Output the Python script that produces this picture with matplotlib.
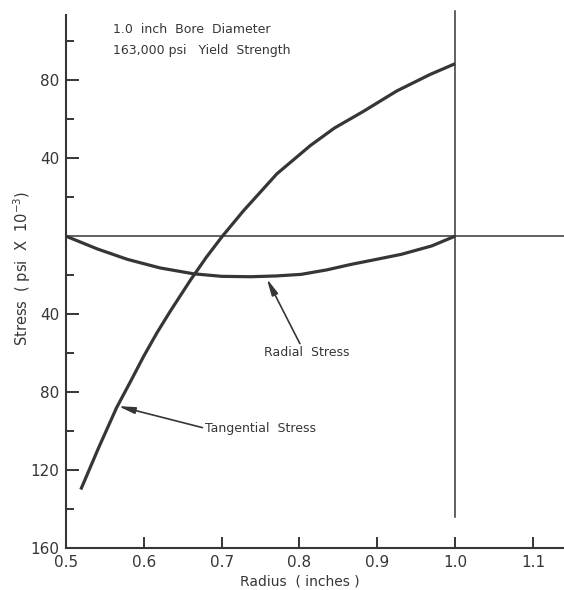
import matplotlib.pyplot as plt

# values (stress in psi x 10^-3, compressive negative)
tang_radius = [0.519, 0.542, 0.565, 0.583, 0.600, 0.617, 0.634, 0.660, 0.680,
               0.701, 0.728, 0.771, 0.814, 0.845, 0.882, 0.925, 0.968, 1.000]
tang_stress = [-130, -108.5, -88, -74.5, -61.5, -49.5, -38.5, -22.5, -11,
               0, 13, 32, 46.5, 55.5, 64, 74.5, 83, 88.5]

rad_radius = [0.500, 0.540, 0.579, 0.621, 0.664, 0.700, 0.737, 0.770,
              0.802, 0.835, 0.866, 0.900, 0.931, 0.970, 1.000]
rad_stress = [0, -6.5, -11.9, -16.3, -19.3, -20.6, -20.8, -20.4,
              -19.6, -17.3, -14.5, -11.8, -9.3, -5, 0]

x_ticks = [0.5, 0.6, 0.7, 0.8, 0.9, 1.0, 1.1]
x_labels = ['0.5', '0.6', '0.7', '0.8', '0.9', '1.0', '1.1']
y_major = [80, 40, -40, -80, -120, -160]
y_labels = ['80', '40', '40', '80', '120', '160']
y_minor = [100, 60, 20, -20, -60, -100, -140]

ink = '#363636'

fig = plt.figure(figsize=(5.64, 5.90), dpi=100)
ax = fig.add_axes([66 / 564, 42 / 590, 498 / 564, 533 / 590])

ax.plot(tang_radius, tang_stress, color=ink, lw=2.3, solid_capstyle='butt')
ax.plot(rad_radius, rad_stress, color=ink, lw=2.3, solid_capstyle='butt')

# zero stress line and bore surface line
ax.axhline(0, color=ink, lw=1.1)
ax.plot([1.0, 1.0], [-144, 115.5], color=ink, lw=1.1, clip_on=False)

ax.set_xlim(0.5, 1.14)
ax.set_ylim(-160, 113.5)

for side in ['top', 'right']:
    ax.spines[side].set_visible(False)
for side in ['left', 'bottom']:
    ax.spines[side].set_linewidth(1.5)
    ax.spines[side].set_color(ink)

ax.set_xticks(x_ticks)
ax.set_xticklabels(x_labels)
ax.set_yticks(y_major)
ax.set_yticklabels(y_labels)
ax.set_yticks(y_minor, minor=True)
ax.tick_params(axis='x', direction='in', length=8, width=1.4, color=ink,
               labelsize=11, labelcolor=ink, pad=5)
ax.tick_params(axis='y', which='major', direction='in', length=9, width=1.4,
               color=ink, labelsize=11, labelcolor=ink, pad=5)
ax.tick_params(axis='y', which='minor', direction='in', length=6, width=1.4,
               color=ink)

ax.set_xlabel('Radius  ( inches )', fontsize=10, color=ink)
ax.xaxis.set_label_coords(0.47, -0.049)
ax.set_ylabel('Stress  ( psi  X  10$^{-3}$)', fontsize=10.5, color=ink)
ax.yaxis.set_label_coords(-0.066, 0.525)

ax.text(0.560, 106.3, '1.0  inch  Bore  Diameter', fontsize=9, color=ink,
        va='center', ha='left')
ax.text(0.560, 95.5, '163,000 psi   Yield  Strength', fontsize=9, color=ink,
        va='center', ha='left')

arrow = dict(arrowstyle='-|>,head_length=1.1,head_width=0.22', color=ink,
             lw=1.2, shrinkA=0, shrinkB=0)
ax.annotate('Tangential  Stress', xy=(0.567, -87.2), xytext=(0.679, -98.6),
            fontsize=9, color=ink, ha='left', va='center',
            arrowprops=dict(arrow, relpos=(0, 0.5)))
ax.annotate('Radial  Stress', xy=(0.758, -21.8), xytext=(0.809, -59.9),
            fontsize=9, color=ink, ha='center', va='center',
            arrowprops=dict(arrow, relpos=(0.44, 1.0)))

fig.savefig('out.png', dpi=100, facecolor='white')
